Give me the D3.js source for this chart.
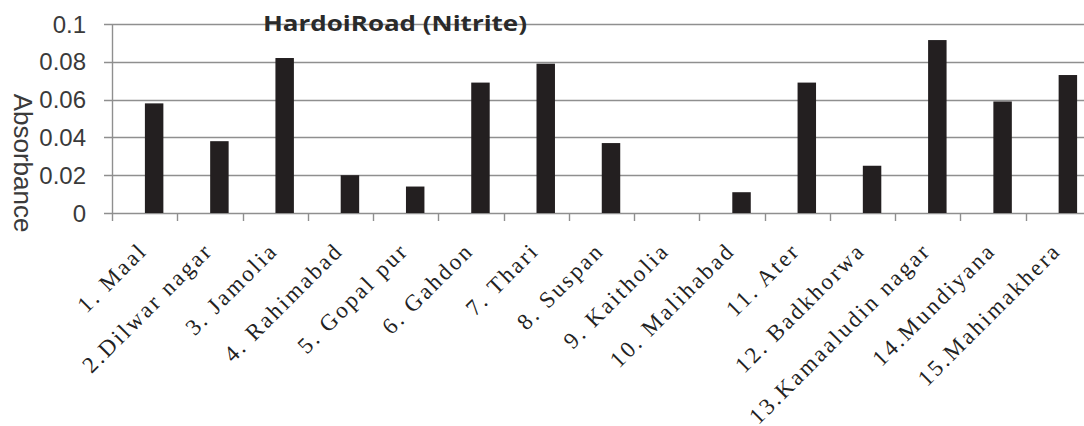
<!DOCTYPE html>
<html>
<head>
<meta charset="utf-8">
<script src="https://cdn.jsdelivr.net/npm/d3@7"></script>
<style>
  html, body { margin: 0; padding: 0; background: #fff; }
  svg { display: block; }
</style>
</head>
<body>
<svg id="chart" width="1084" height="426"></svg>
<script>
// Sampling sites along Hardoi Road and their nitrite absorbance readings
const sites = [
  "1. Maal", "2.Dilwar nagar", "3. Jamolia", "4. Rahimabad", "5. Gopal pur",
  "6. Gahdon", "7. Thari", "8. Suspan", "9. Kaitholia", "10. Malihabad",
  "11. Ater", "12. Badkhorwa", "13.Kamaaludin nagar", "14.Mundiyana", "15.Mahimakhera"
];
const absorbance = [
  0.058, 0.038, 0.082, 0.020, 0.014,
  0.069, 0.079, 0.037, 0.000, 0.011,
  0.069, 0.025, 0.0915, 0.059, 0.073
];
const yTicks = [0, 0.02, 0.04, 0.06, 0.08, 0.1];
const yTickLabels = ["0", "0.02", "0.04", "0.06", "0.08", "0.1"];
const titleText = "HardoiRoad (Nitrite)";
const yTitle = "Absorbance";

const svg = d3.select("#chart");

const plot = { left: 112, right: 1091, top: 24, bottom: 213 };

// Category slots (tick marks sit on the slot boundaries)
const xSlot = d3.scaleBand()
  .domain(sites)
  .range([plot.left, plot.right])
  .padding(0);

// Bars are drawn slightly right of the slot centres
const xBar = d3.scaleBand()
  .domain(sites)
  .range([plot.left + 9.5, plot.right + 9.5])
  .paddingInner(0.717)
  .paddingOuter(0.3585);

const y = d3.scaleLinear()
  .domain([0, 0.1])
  .range([plot.bottom, plot.top]);

const gridColor = "#8f8f8f";

// Horizontal gridlines (extend left of the axis as tick marks)
svg.append("g")
  .selectAll("line")
  .data(yTicks)
  .join("line")
  .attr("x1", plot.left - 8)
  .attr("x2", plot.right)
  .attr("y1", d => Math.round(y(d)) + 0.5)
  .attr("y2", d => Math.round(y(d)) + 0.5)
  .attr("stroke", gridColor)
  .attr("stroke-width", 1.4);

// Vertical axis line
svg.append("line")
  .attr("x1", plot.left + 0.5).attr("x2", plot.left + 0.5)
  .attr("y1", plot.top).attr("y2", plot.bottom + 8)
  .attr("stroke", gridColor).attr("stroke-width", 1.4);

// Category tick marks below the baseline
svg.append("g")
  .selectAll("line")
  .data(sites)
  .join("line")
  .attr("x1", d => Math.round(xSlot(d) + xSlot.step()) + 0.5)
  .attr("x2", d => Math.round(xSlot(d) + xSlot.step()) + 0.5)
  .attr("y1", plot.bottom)
  .attr("y2", plot.bottom + 8)
  .attr("stroke", gridColor)
  .attr("stroke-width", 1.4);

// Bars
svg.append("g")
  .selectAll("rect")
  .data(sites.map((s, i) => ({ site: s, value: absorbance[i] })))
  .join("rect")
  .attr("x", d => xBar(d.site))
  .attr("width", xBar.bandwidth())
  .attr("y", d => y(d.value))
  .attr("height", d => y(0) - y(d.value))
  .attr("fill", "#231f20");

// Y tick labels
svg.append("g")
  .selectAll("text")
  .data(yTicks)
  .join("text")
  .attr("x", 86)
  .attr("y", d => y(d))
  .attr("dy", "0.36em")
  .attr("text-anchor", "end")
  .attr("font-family", "'Liberation Sans', Arial, sans-serif")
  .attr("font-size", 24)
  .attr("fill", "#3a3a3a")
  .text((d, i) => yTickLabels[i]);

// Y axis title, reading top to bottom
svg.append("text")
  .attr("transform", "translate(14,163) rotate(90)")
  .attr("text-anchor", "middle")
  .attr("font-family", "'Liberation Sans', Arial, sans-serif")
  .attr("font-size", 26)
  .attr("fill", "#3a3a3a")
  .text(yTitle);

// Rotated category labels
svg.append("g")
  .selectAll("text")
  .data(sites)
  .join("text")
  .attr("transform", d => `translate(${xSlot(d) + xSlot.bandwidth() / 2 + 4},252) rotate(-45)`)
  .attr("text-anchor", "end")
  .attr("font-family", "'Liberation Serif', 'Times New Roman', serif")
  .attr("font-size", 23)
  .attr("letter-spacing", 2.5)
  .attr("fill", "#222")
  .text(d => d);

// Chart title
svg.append("text")
  .attr("x", 263)
  .attr("y", 31)
  .attr("font-family", "'Open Sans', Lato, sans-serif")
  .attr("font-weight", "bold")
  .attr("font-size", 21)
  .attr("textLength", 264)
  .attr("lengthAdjust", "spacingAndGlyphs")
  .attr("fill", "#2a2a2a")
  .text(titleText);
</script>
</body>
</html>
